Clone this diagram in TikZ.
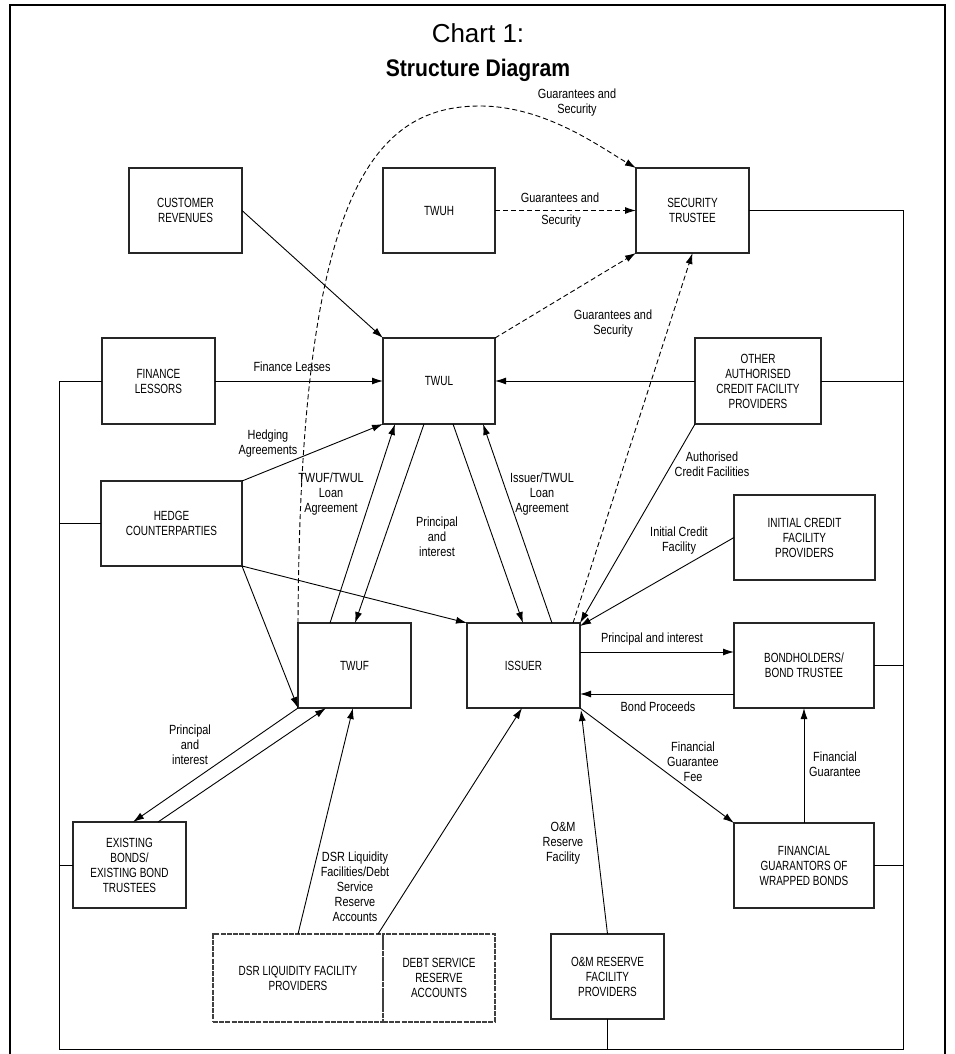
\documentclass[tikz,border=0pt]{standalone}
\usepackage{fontspec}
\setmainfont{Liberation Sans}
\newfontfamily\boxfont[FakeStretch=0.75]{Liberation Sans}
\newfontfamily\lblfont[FakeStretch=0.82]{Liberation Sans}
\newfontfamily\titleboldfont[FakeStretch=0.88]{Liberation Sans}
\usetikzlibrary{arrows.meta,calc}
\begin{document}
\begin{tikzpicture}[x=1pt,y=-1pt,
  box/.style={draw=black!85, line width=1.1pt, inner sep=2pt, outer sep=0pt, align=center,
    font=\boxfont\fontsize{13.3}{15}\selectfont, minimum width=113, minimum height=85},
  dbox/.style={box, draw=black!75, dash pattern=on 5pt off 1.2pt},
  lbl/.style={align=center, inner sep=0pt, font=\lblfont\fontsize{13.3}{15}\selectfont},
  conn/.style={draw, line width=0.9pt, -{Latex[length=11pt,width=7pt]}},
  dconn/.style={conn, dash pattern=on 5pt off 3pt},
  bus/.style={draw, line width=0.9pt},
  frame/.style={draw, line width=2.6pt}]
\useasboundingbox (0,0) rectangle (955,1054);
% outer frame
\coordinate (f1) at (10,1056);
\coordinate (f2) at (10,5);
\coordinate (f3) at (945,5);
\coordinate (f4) at (945,1056);
\draw[frame] (f1) -- (f2) -- (f3) -- (f4);
% title
\node[font=\fontsize{26}{30}\selectfont] (t1) at (478,33) {Chart 1:};
\node[font=\titleboldfont\bfseries\fontsize{24}{28}\selectfont] (t2) at (478,70) {Structure Diagram};
% boxes
\node[box] (cr) at (185.5,210.5) {CUSTOMER\\REVENUES};
\node[box, minimum width=112] (twuh) at (439,210.5) {TWUH};
\node[box] (st) at (692.5,210.5) {SECURITY\\TRUSTEE};
\node[box, minimum height=86] (fl) at (158.5,381) {FINANCE\\LESSORS};
\node[box, minimum width=112, minimum height=86] (twul) at (439,381) {TWUL};
\node[box, minimum width=126, minimum height=86] (oa) at (758,381) {OTHER\\AUTHORISED\\CREDIT FACILITY\\PROVIDERS};
\node[box, minimum width=141] (hc) at (171.5,523.5) {HEDGE\\COUNTERPARTIES};
\node[box, minimum width=141] (icp) at (804.5,537.5) {INITIAL CREDIT\\FACILITY\\PROVIDERS};
\node[box] (twuf) at (354.5,665.5) {TWUF};
\node[box] (iss) at (523.5,665.5) {ISSUER};
\node[box, minimum width=140] (bh) at (804,665.5) {BONDHOLDERS/\\BOND TRUSTEE};
\node[box, minimum height=86] (eb) at (129.5,865) {EXISTING\\BONDS/\\EXISTING BOND\\TRUSTEES};
\node[box, minimum width=140] (fg) at (804,865.5) {FINANCIAL\\GUARANTORS OF\\WRAPPED BONDS};
\node[dbox, minimum width=170, minimum height=88] (dsr) at (298,978) {DSR LIQUIDITY FACILITY\\PROVIDERS};
\node[dbox, minimum width=112, minimum height=88] (dsra) at (439,978) {DEBT SERVICE\\RESERVE\\ACCOUNTS};
\node[box] (om) at (607.5,976.5) {O\&M RESERVE\\FACILITY\\PROVIDERS};
% bus lines
\coordinate (lt) at (59,381);
\coordinate (lb) at (59,1049);
\coordinate (rb) at (903,1049);
\coordinate (rt) at (903,210.5);
\draw[bus] (fl.west) -- (lt) -- (lb) -- (rb) -- (rt) -- (st.east);
\draw[bus] (hc.west) -- (hc.west -| lt);
\draw[bus] (eb.west) -- (eb.west -| lt);
\draw[bus] ($(dsr.south west)+(141,0)$) -- ($(dsr.south west)+(141,0)$ |- lb);
\draw[bus] (om.south) -- (om.south |- lb);
\draw[bus] (oa.east) -- (oa.east -| rt);
\draw[bus] (bh.east) -- (bh.east -| rt);
\draw[bus] (fg.east) -- (fg.east -| rt);
% connectors
\draw[conn] (cr.east) -- (twul.north west);
\draw[dconn] (twuh.east) -- (st.west);
\draw[dconn] (twul.north east) -- (st.south west);
\draw[dconn] (twuf.north west) .. controls (300,200) and (370,106) .. (480,106)
   .. controls (545,106) and (600,147) .. (st.north west);
\draw[conn] (fl.east) -- (twul.west);
\draw[conn] (oa.west) -- (twul.east);
\draw[conn] (hc.north east) -- (twul.south west);
\draw[conn] ($(twuf.north west)+(32,0)$) -- ($(twul.south west)+(12,0)$);
\draw[conn] ($(twul.south west)+(41,0)$) -- ($(twuf.north west)+(57,0)$);
\draw[conn] ($(twul.south west)+(70,0)$) -- ($(iss.north west)+(56,0)$);
\draw[conn] ($(iss.north west)+(85,0)$) -- ($(twul.south west)+(100,0)$);
\draw[conn] (hc.south east) -- (iss.north west);
\draw[conn] (hc.south east) -- (twuf.south west);
\draw[dconn] ($(iss.north west)+(106,0)$) -- (st.south);
\draw[conn] (oa.south west) -- (iss.north east);
\draw[conn] (icp.west) -- ($(iss.north east)+(0,3)$);
\draw[conn] ($(iss.east)+(0,-13.5)$) -- ($(bh.west)+(0,-13.5)$);
\draw[conn] ($(bh.west)+(0,28.5)$) -- ($(iss.east)+(0,28.5)$);
\draw[conn] (iss.south east) -- (fg.north west);
\draw[conn] (fg.north) -- (bh.south);
\draw[conn] (om.north) -- ($(iss.south east)+(1,2)$);
\draw[conn] ($(dsr.north west)+(85,0)$) -- ($(twuf.south west)+(55,0)$);
\draw[conn] ($(dsr.north east)+(-5,0)$) -- ($(iss.south west)+(55,0)$);
\draw[conn] (twuf.south west) -- ($(eb.north west)+(60,0)$);
\draw[conn] ($(eb.north west)+(85,0)$) -- ($(twuf.south west)+(28,0)$);
% labels
\node[lbl] (l1) at (577,103) {Guarantees and\\Security};
\node[lbl] (l2a) at (560,198) {Guarantees and};
\node[lbl] (l2b) at (561,221) {Security};
\node[lbl] (l3) at (613,324) {Guarantees and\\Security};
\node[lbl] (l4) at (292,367) {Finance Leases};
\node[lbl] (l5) at (268,444) {Hedging\\Agreements};
\node[lbl] (l6) at (331,494) {TWUF/TWUL\\Loan\\Agreement};
\node[lbl] (l7) at (437,537) {Principal\\and\\interest};
\node[lbl] (l8) at (542,494) {Issuer/TWUL\\Loan\\Agreement};
\node[lbl] (l9) at (712,464) {Authorised\\Credit Facilities};
\node[lbl] (l10) at (679,541) {Initial Credit\\Facility};
\node[lbl] (l11) at (652,639) {Principal and interest};
\node[lbl] (l12) at (658,707) {Bond Proceeds};
\node[lbl] (l13) at (693,762) {Financial\\Guarantee\\Fee};
\node[lbl] (l14) at (835,764) {Financial\\Guarantee};
\node[lbl] (l15) at (563,843) {O\&M\\Reserve\\Facility};
\node[lbl] (l16) at (355,887) {DSR Liquidity\\Facilities/Debt\\Service\\Reserve\\Accounts};
\node[lbl] (l17) at (190,745) {Principal\\and\\interest};
\end{tikzpicture}
\end{document}
